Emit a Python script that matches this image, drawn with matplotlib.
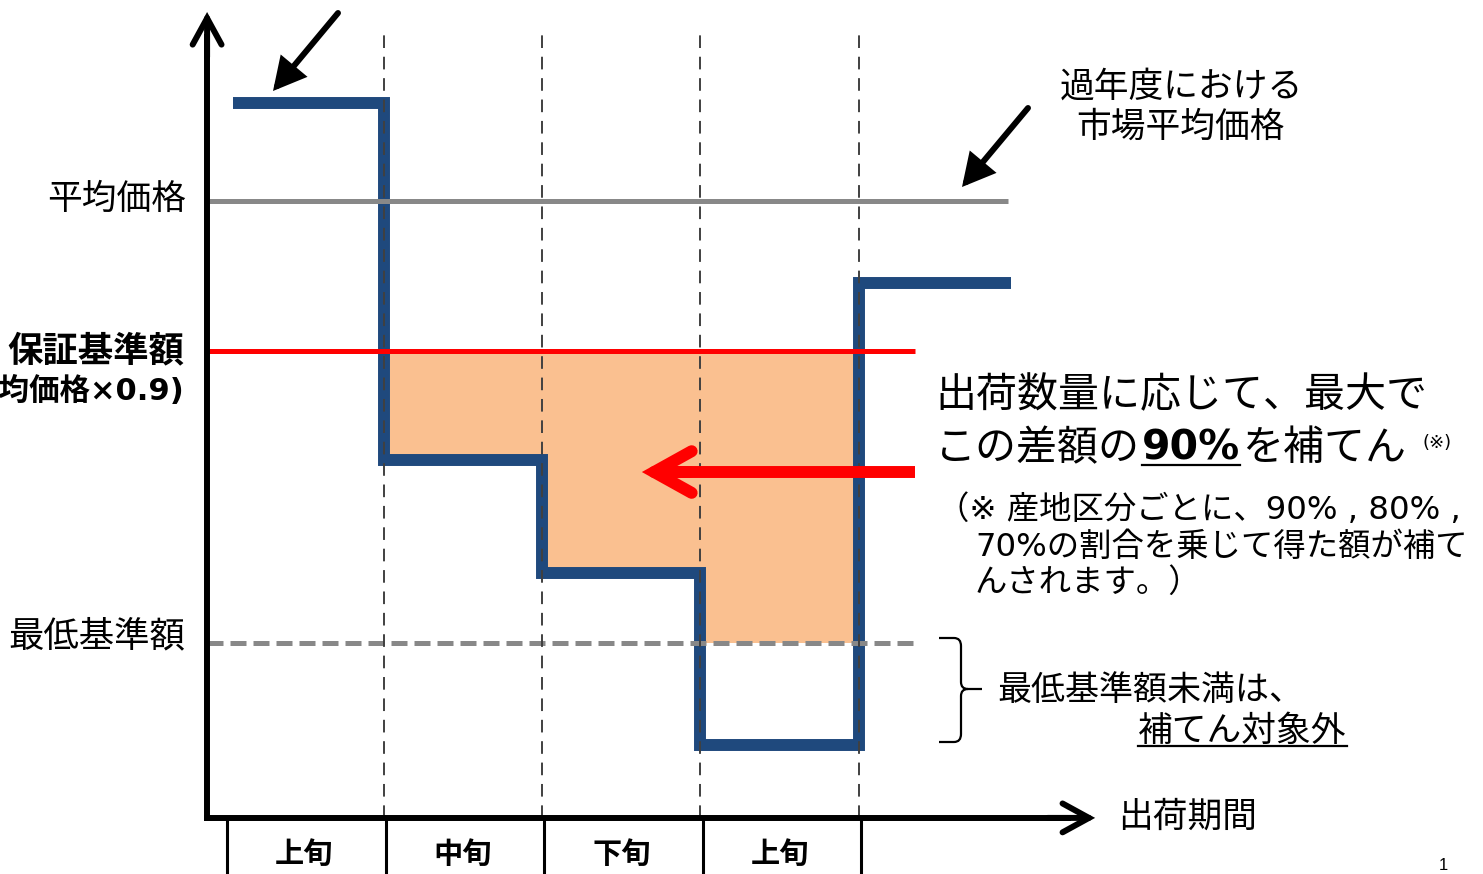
import matplotlib
matplotlib.use('Agg')
import matplotlib.pyplot as plt
from matplotlib.transforms import IdentityTransform
from matplotlib.lines import Line2D
from matplotlib.path import Path
from matplotlib.patches import PathPatch

JP = 'Noto Sans CJK JP'
plt.rcParams['font.family'] = ['DejaVu Sans', JP]

# ---------------- data ----------------
period_labels = ['上旬', '中旬', '下旬', '上旬']
period_edges = [0, 1, 2, 3, 4]
step_start = [0.05, 1, 2, 3, 4]
step_end = [1, 2, 3, 4, 4.96]
step_price = [106.5, 82.7, 75.2, 63.7, 94.5]
avg_price = 100.0
guarantee_ratio = 0.9
minimum_price = 70.5
guarantee_price = avg_price * guarantee_ratio

# ---------------- style ----------------
BLUE = '#1F497D'
FILL = '#FAC090'
GRAY = '#888888'
RED = '#FF0000'
DASH = '#404040'

W, H = 1483, 874
fig = plt.figure(figsize=(W / 100, H / 100), dpi=100)
ax = fig.add_axes([0, 0, 1, 1])
ax.set_xlim(-1.4196, 7.937)
ax.set_ylim(55.13, 113.4)
ax.axis('off')

# frame of the diagram (data units)
axis_x = -0.113
axis_y = 58.87
axis_top = 112.6
axis_right = 5.49
grid_top = 111.3
avg_end = 4.94
level_end = 4.355

# fill (compensated area)
fx = period_edges[1:]
lows = [max(p, minimum_price) for p in step_price[1:4]]
ax.fill_between(fx, lows + [lows[-1]], guarantee_price, step='post',
                color=FILL, lw=0, zorder=1)

# step line (market price)
xs, ys = [], []
for s, e, p in zip(step_start, step_end, step_price):
    xs += [s, e]
    ys += [p, p]
ax.plot(xs, ys, color=BLUE, lw=8.6, solid_joinstyle='miter',
        solid_capstyle='butt', zorder=2)

# level lines
ax.plot([axis_x, avg_end], [avg_price, avg_price], color=GRAY, lw=3.6,
        solid_capstyle='butt', zorder=3)
ax.plot([axis_x, level_end], [guarantee_price, guarantee_price], color=RED,
        lw=3.6, solid_capstyle='butt', zorder=3)
ax.plot([axis_x, level_end], [minimum_price, minimum_price], color=GRAY,
        lw=3.6, linestyle=(0, (3.2, 1.4)), dash_capstyle='butt', zorder=3)

# vertical dashed period boundaries
for e in period_edges[1:]:
    ax.plot([e, e], [axis_y, grid_top], color=DASH, lw=1.4,
            linestyle=(0, (6.5, 4.5)), zorder=4)

# period table below the axis
for e in period_edges:
    ax.plot([e + 0.015, e + 0.015], [axis_y, 55.0], color='black', lw=2.2, zorder=4)
for i, lab in enumerate(period_labels):
    ax.text((period_edges[i] + period_edges[i + 1]) / 2, 56.5, lab,
            ha='center', va='center', fontsize=21, fontweight='bold',
            family=JP, zorder=5)

# axes with arrows
ax.plot([axis_x, axis_x], [axis_y - 0.2, axis_top - 1.5], color='black',
        lw=4.3, solid_capstyle='butt', zorder=6)
ax.plot([axis_x - 0.02, axis_right - 0.15], [axis_y, axis_y], color='black',
        lw=4.3, solid_capstyle='butt', zorder=6)
ax.annotate('', xy=(axis_x, axis_top), xytext=(axis_x, axis_top - 3),
            arrowprops=dict(arrowstyle='->,head_length=0.95,head_width=0.52',
                            lw=4.3, color='black', mutation_scale=20,
                            shrinkA=0, shrinkB=0, capstyle='round',
                            joinstyle='miter'), zorder=6)
ax.annotate('', xy=(axis_right, axis_y), xytext=(axis_right - 0.3, axis_y),
            arrowprops=dict(arrowstyle='->,head_length=0.95,head_width=0.52',
                            lw=4.3, color='black', mutation_scale=20,
                            shrinkA=0, shrinkB=0, capstyle='round',
                            joinstyle='miter'), zorder=6)

# red arrow: butt-ended shaft plus rounded chevron head
red_y = 81.93
red_tip = 2.63
red_tail = 4.353
ax.plot([red_tip + 0.15, red_tail], [red_y, red_y], color=RED, lw=8.6,
        solid_capstyle='butt', zorder=7)
ax.annotate('', xy=(red_tip, red_y), xytext=(red_tip + 0.3, red_y),
            arrowprops=dict(arrowstyle='->,head_length=1.35,head_width=0.75',
                            lw=8.6, color=RED, mutation_scale=20,
                            shrinkA=0, shrinkB=0, capstyle='round',
                            joinstyle='miter'), zorder=7)

# black pointer arrows (figure pixels, y from top)
def fp(x, y):
    return (x, H - y)

for tail, tip in [((338, 13), (273, 91)), ((1028, 108), (962, 187))]:
    ax.annotate('', xy=fp(*tip), xycoords='figure pixels',
                xytext=fp(*tail), textcoords='figure pixels',
                arrowprops=dict(arrowstyle='-|>,head_length=0.85,head_width=0.45',
                                lw=4.3, color='black', mutation_scale=20,
                                shrinkA=0, shrinkB=0, joinstyle='miter'),
                zorder=7)

# ---------------- texts ----------------
# left labels
ax.annotate('平均価格', xy=(186, avg_price), xycoords=('figure pixels', 'data'),
            xytext=(0, 1), textcoords='offset points',
            ha='right', va='center', fontsize=25, family=JP)
ax.annotate('保証基準額', xy=(184, guarantee_price), xycoords=('figure pixels', 'data'),
            ha='right', va='center', fontsize=25.5, family=JP, fontweight='bold')
ax.annotate('(平均価格×0.9)', xy=(184, guarantee_price), xycoords=('figure pixels', 'data'),
            xytext=(0, -29), textcoords='offset points',
            ha='right', va='center', fontsize=22, fontweight='bold')
ax.annotate('最低基準額', xy=(185, minimum_price), xycoords=('figure pixels', 'data'),
            xytext=(0, 5), textcoords='offset points',
            ha='right', va='center', fontsize=25.5, family=JP)

T = IdentityTransform()
fig.text(1181, H - 87, '過年度における', transform=T, ha='center', va='center',
         fontsize=25, family=JP)
fig.text(1181, H - 127, '市場平均価格', transform=T, ha='center', va='center',
         fontsize=25, family=JP)
fig.text(1118, H - 817, '出荷期間', transform=T, ha='left', va='center',
         fontsize=25, family=JP)
fig.text(1443, H - 866, '1', transform=T, ha='center', va='center',
         fontsize=12, family='Liberation Sans')

renderer = fig.canvas.get_renderer()


def rich(x, y_base, pieces, gap=0):
    cur = x
    for text, kw in pieces:
        kw = dict(kw)
        ul = kw.pop('underline', False)
        dy = kw.pop('dy', 0)
        extra = kw.pop('pre', 0)
        cur += extra
        t = fig.text(cur, H - y_base + dy, text, transform=T, ha='left',
                     va='baseline', **kw)
        bb = t.get_window_extent(renderer)
        if ul:
            fig.add_artist(Line2D([bb.x0, bb.x1], [H - y_base - 4.5] * 2,
                                  transform=T, color='black', lw=1.6))
        cur = bb.x1 + gap


big = dict(fontsize=29.5)
rich(935, 407, [('出荷数量に応じて、最大で', big)])
rich(935, 460, [('この差額の', big),
                ('90%', dict(fontsize=29.5, fontweight='bold', underline=True)),
                ('を補てん', big),
                ('(※)', dict(fontsize=13, dy=12, pre=14))], gap=2)

small = dict(fontsize=23.3)
rich(937, 519, [('（※ 産地区分ごとに、90% , 80% ,', small)])
rich(975, 556, [('70%の割合を乗じて得た額が補て', small)])
rich(975, 592, [('んされます。）', small)])

rich(997, 700, [('最低基準額未満は、', dict(fontsize=24.5))])
rich(1138, 741, [('補てん対象外', dict(fontsize=25, underline=True))])

# brace
verts = [(939, 638), (954, 638), (961, 638), (961, 646),
         (961, 682), (961, 689), (968, 689), (982, 689),
         (968, 689), (961, 689), (961, 696),
         (961, 734), (961, 742), (954, 742), (939, 742)]
codes = [Path.MOVETO, Path.LINETO, Path.CURVE3, Path.CURVE3,
         Path.LINETO, Path.CURVE3, Path.CURVE3, Path.LINETO,
         Path.MOVETO, Path.CURVE3, Path.CURVE3,
         Path.LINETO, Path.CURVE3, Path.CURVE3, Path.LINETO]
verts = [(vx, H - vy) for vx, vy in verts]
fig.add_artist(PathPatch(Path(verts, codes), transform=T, fill=False,
                         edgecolor='black', lw=1.6))

fig.savefig('out.png', dpi=100)
